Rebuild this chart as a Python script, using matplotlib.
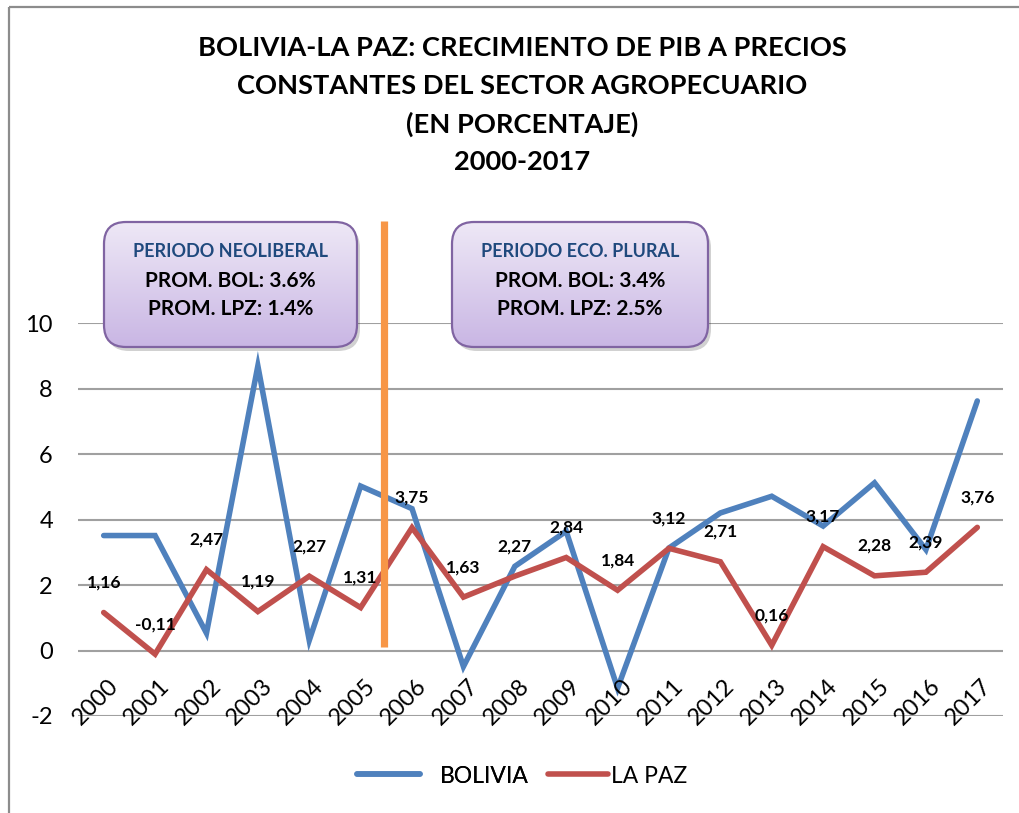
import numpy as np
import matplotlib
matplotlib.use("Agg")
import matplotlib.pyplot as plt
from matplotlib.patches import FancyBboxPatch, Rectangle

plt.rcParams['font.family'] = ['Lato', 'DejaVu Sans']

# data
years = [str(y) for y in range(2000, 2018)]
bolivia = [3.51, 3.51, 0.53, 8.69, 0.31, 5.02, 4.33, -0.49, 2.57, 3.64,
           -1.15, 3.13, 4.20, 4.71, 3.80, 5.12, 3.08, 7.62]
la_paz = [1.16, -0.11, 2.47, 1.19, 2.27, 1.31, 3.75, 1.63, 2.27, 2.84,
          1.84, 3.12, 2.71, 0.16, 3.17, 2.28, 2.39, 3.76]
y_ticks = [-2, 0, 2, 4, 6, 8, 10]
title_lines = ["BOLIVIA-LA PAZ: CRECIMIENTO DE PIB A PRECIOS",
               "CONSTANTES DEL SECTOR AGROPECUARIO",
               "(EN PORCENTAJE)",
               "2000-2017"]
box_texts = [("PERIODO NEOLIBERAL", "PROM. BOL: 3.6%", "PROM. LPZ: 1.4%"),
             ("PERIODO ECO. PLURAL", "PROM. BOL: 3.4%", "PROM. LPZ: 2.5%")]
divider_x = 5.45  # between 2005 and 2006

BLUE = '#4F81BD'
RED = '#C0504D'
ORANGE = '#F79646'

W, H = 1020, 813
fig = plt.figure(figsize=(W / 100, H / 100), dpi=100)
ax = fig.add_axes([78 / W, 1 - 716 / H, 925 / W, 393 / H])

x = np.arange(len(years))
ax.set_xlim(-0.5, len(years) - 0.5)
ax.set_ylim(-2, 10)
ax.set_yticks(y_ticks)
ax.set_yticklabels([str(v) for v in y_ticks], fontsize=17)
ax.tick_params(axis='y', length=0, pad=18)
ax.set_xticks([])
ax.yaxis.grid(True, color='#A0A0A0', lw=1.5)
ax.set_axisbelow(True)
for s in ax.spines.values():
    s.set_visible(False)

l1, = ax.plot(x, bolivia, color=BLUE, lw=4, solid_capstyle='round',
              solid_joinstyle='miter', label='BOLIVIA', zorder=3)
l2, = ax.plot(x, la_paz, color=RED, lw=4, solid_capstyle='round',
              solid_joinstyle='miter', label='LA PAZ', zorder=4)

# orange divider
ax.plot([divider_x, divider_x], [0.1, 13.1], color=ORANGE, lw=5.2,
        solid_capstyle='butt', clip_on=False, zorder=5)

# data labels (La Paz)
for xi, v in zip(x, la_paz):
    ax.annotate(f"{v:.2f}".replace('.', ','), (xi, v), xytext=(0, 21.5),
                textcoords='offset points', ha='center', va='center',
                fontsize=12.5, fontweight='bold', zorder=6)

# year labels between 0 and -2
for xi, yr in zip(x, years):
    ax.annotate(yr, (xi, 0), xytext=(8, -23), textcoords='offset points',
                ha='right', va='center', rotation=45, rotation_mode='anchor',
                fontsize=17, annotation_clip=False)

# title
for i, line in enumerate(title_lines):
    fig.text(0.512, 1 - (48 + i * 38) / H, line, ha='center', va='center',
             fontsize=19.6, fontweight='bold')

# legend, two entries placed like the original
lg1 = fig.legend(handles=[l1], loc='center left', bbox_to_anchor=(357 / W, 1 - 776 / H),
                 frameon=False, fontsize=16.5, handlelength=2.75,
                 handletextpad=0.85, borderpad=0, borderaxespad=0)
fig.add_artist(lg1)
fig.legend(handles=[l2], loc='center left', bbox_to_anchor=(548 / W, 1 - 776 / H),
           frameon=False, fontsize=16.5, handlelength=2.6,
           handletextpad=0.15, borderpad=0, borderaxespad=0)

# overlay in pixel coords for frame and text boxes
ov = fig.add_axes([0, 0, 1, 1], zorder=10)
ov.set_xlim(0, W)
ov.set_ylim(H, 0)
ov.axis('off')
ov.patch.set_visible(False)
ov.add_patch(Rectangle((9, 7), W + 50, H + 50, fill=False, ec='#8C8C8C', lw=1.6))

top_c = np.array([238, 232, 246]) / 255
bot_c = np.array([201, 182, 228]) / 255
grad = np.linspace(0, 1, 200)[:, None, None]
grad_img = top_c * (1 - grad) + bot_c * grad
for (x0, x1), texts in zip([(104, 357), (452, 708)], box_texts):
    y0, y1 = 222, 347
    shadow = FancyBboxPatch((x0 + 3, y0 + 4), x1 - x0, y1 - y0,
                            boxstyle='round,pad=0,rounding_size=22',
                            fc='#000000', ec='none', alpha=0.18)
    ov.add_patch(shadow)
    box = FancyBboxPatch((x0, y0), x1 - x0, y1 - y0,
                         boxstyle='round,pad=0,rounding_size=22',
                         fc='none', ec='#8064A2', lw=1.6, zorder=3)
    ov.add_patch(box)
    im = ov.imshow(grad_img, extent=(x0, x1, y1, y0), aspect='auto', zorder=2)
    im.set_clip_path(box)
    cx = (x0 + x1) / 2
    ov.text(cx, 251, texts[0], ha='center', va='center', fontsize=13,
            fontweight='bold', color='#1F497D', zorder=4)
    ov.text(cx, 281, texts[1], ha='center', va='center', fontsize=15,
            fontweight='bold', zorder=4)
    ov.text(cx, 309, texts[2], ha='center', va='center', fontsize=15,
            fontweight='bold', zorder=4)
ov.set_xlim(0, W)
ov.set_ylim(H, 0)

fig.savefig('out.png', dpi=100)
